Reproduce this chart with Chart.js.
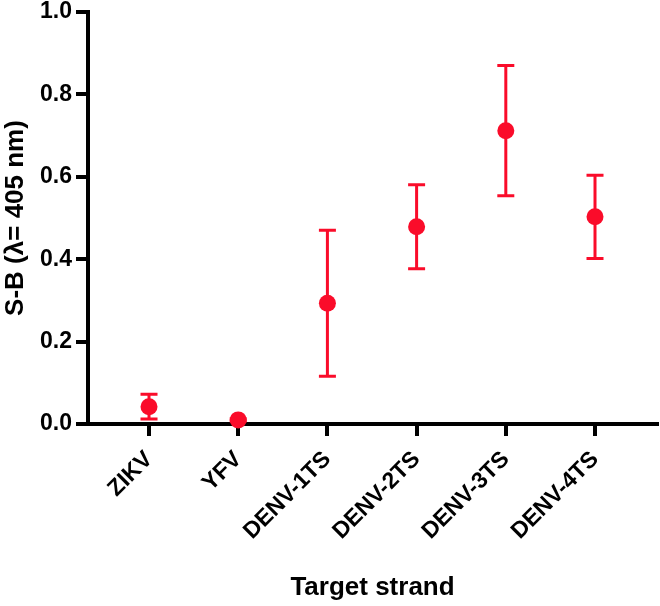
<!DOCTYPE html>
<html>
<head>
<meta charset="utf-8">
<script src="https://cdn.jsdelivr.net/npm/chart.js@4.4.0/dist/chart.umd.min.js"></script>
<style>
  html, body { margin: 0; padding: 0; background: #fff; }
</style>
</head>
<body>
<canvas id="grafico" width="660" height="606"></canvas>
<script>
// =======================
// Datos
// =======================
const categorias = ["ZIKV", "YFV", "DENV-1TS", "DENV-2TS", "DENV-3TS", "DENV-4TS"];
const medias = [0.042, 0.010, 0.293, 0.479, 0.712, 0.503];
const errores = [0.030, 0.003, 0.177, 0.102, 0.158, 0.101];
const ticksY = [0.0, 0.2, 0.4, 0.6, 0.8, 1.0];

const rojo = "rgb(250, 12, 42)";
const fuente = "'Liberation Sans', Arial, sans-serif";

// =======================
// Barras de error (debajo de los puntos)
// =======================
const barrasError = {
  id: "barrasError",
  beforeDatasetsDraw(chart) {
    const { ctx, scales: { x, y } } = chart;
    ctx.save();
    ctx.strokeStyle = rojo;
    ctx.lineWidth = 3;
    medias.forEach((m, i) => {
      const px = x.getPixelForValue(i);
      const arriba = y.getPixelForValue(m + errores[i]);
      const abajo = y.getPixelForValue(m - errores[i]);
      ctx.beginPath();
      ctx.moveTo(px, arriba); ctx.lineTo(px, abajo);
      ctx.moveTo(px - 8.5, arriba); ctx.lineTo(px + 8.5, arriba);
      ctx.moveTo(px - 8.5, abajo); ctx.lineTo(px + 8.5, abajo);
      ctx.stroke();
    });
    ctx.restore();
  }
};

const ctx = document.getElementById("grafico").getContext("2d");
new Chart(ctx, {
  type: "scatter",
  data: {
    datasets: [{
      data: medias.map((m, i) => ({ x: i, y: m })),
      backgroundColor: rojo,
      borderColor: rojo,
      borderWidth: 0,
      pointRadius: 8.5,
      pointHoverRadius: 8.5,
      clip: false
    }]
  },
  options: {
    responsive: false,
    animation: false,
    layout: { autoPadding: false, padding: { top: 12, right: 3, left: 0, bottom: 0 } },
    plugins: { legend: { display: false }, tooltip: { enabled: false } },
    scales: {
      x: {
        type: "linear",
        min: -0.684,
        max: 5.695,
        afterBuildTicks: (scale) => { scale.ticks = categorias.map((c, i) => ({ value: i })); },
        afterFit: (scale) => {
          scale.height = 182;
          scale.paddingLeft = 0;
          scale.paddingRight = 0;
        },
        grid: { drawOnChartArea: false, drawTicks: true, tickLength: 12, tickWidth: 4, tickColor: "#000", lineWidth: 4, color: "#000" },
        border: { display: true, width: 4, color: "#000" },
        ticks: {
          autoSkip: false,
          maxRotation: 45,
          minRotation: 45,
          padding: 10,
          color: "#000",
          font: { family: fuente, size: 23, weight: "bold" },
          callback: (v) => categorias[v]
        },
        title: {
          display: true,
          text: "Target strand",
          color: "#000",
          padding: { top: 0, bottom: 3 },
          font: { family: fuente, size: 26, weight: "bold" }
        }
      },
      y: {
        min: 0,
        max: 1,
        afterBuildTicks: (scale) => { scale.ticks = ticksY.map(v => ({ value: v })); },
        afterFit: (scale) => {
          scale.width = 88;
          scale.paddingTop = 0;
          scale.paddingBottom = 0;
        },
        grid: { drawOnChartArea: false, drawTicks: true, tickLength: 12, tickWidth: 4, tickColor: "#000", lineWidth: 4, color: "#000" },
        border: { display: true, width: 4, color: "#000" },
        ticks: {
          padding: 4,
          color: "#000",
          font: { family: fuente, size: 23, weight: "bold" },
          callback: (v) => Number(v).toFixed(1)
        },
        title: {
          display: true,
          text: "S-B (λ= 405 nm)",
          color: "#000",
          padding: { top: 0, bottom: 0 },
          font: { family: fuente, size: 26, weight: "bold" }
        }
      }
    }
  },
  plugins: [barrasError]
});
</script>
</body>
</html>
